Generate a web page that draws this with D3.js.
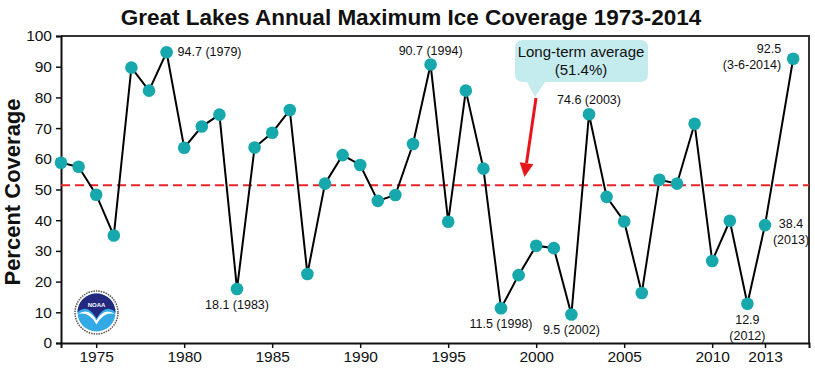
<!DOCTYPE html>
<html><head><meta charset="utf-8">
<script src="https://cdn.jsdelivr.net/npm/d3@7"></script>
<style>body{margin:0;background:#fff}svg{display:block;font-family:"Liberation Sans",Arial,sans-serif}</style>
</head><body><svg id="c" width="815" height="369"></svg>
<script>
const years = [1973,1974,1975,1976,1977,1978,1979,1980,1981,1982,1983,1984,1985,1986,1987,1988,1989,1990,1991,1992,1993,1994,1995,1996,1997,1998,1999,2000,2001,2002,2003,2004,2005,2006,2007,2008,2009,2010,2011,2012,2013,2014.6];
const coverage = [58.7,57.4,48.3,35.0,89.7,82.2,94.7,63.6,70.5,74.4,17.6,63.7,68.5,75.9,22.5,51.9,61.2,58.0,46.3,48.2,64.8,90.7,39.5,82.2,56.8,11.3,22.1,31.7,30.9,9.3,74.5,47.6,39.6,16.3,53.2,51.9,71.4,26.7,39.8,12.8,38.4,92.6];
const average = 51.4;
const xTicks = [1975,1980,1985,1990,1995,2000,2005,2010,2013];
const yTicks = [0,10,20,30,40,50,60,70,80,90,100];
const annotations = [
  {x:1979, v:94.7, lines:["94.7 (1979)"], pos:"right"},
  {x:1983, v:17.6, lines:["18.1 (1983)"], pos:"below"},
  {x:1994, v:90.7, lines:["90.7 (1994)"], pos:"above"},
  {x:1998, v:11.3, lines:["11.5 (1998)"], pos:"below"},
  {x:2002, v:9.3, lines:["9.5 (2002)"], pos:"below"},
  {x:2003, v:74.5, lines:["74.6 (2003)"], pos:"above"},
  {x:2012, v:12.8, lines:["12.9","(2012)"], pos:"below"},
  {x:2013, v:38.4, lines:["38.4","(2013)"], pos:"rightc"},
  {x:2014.6, v:92.6, lines:["92.5","(3-6-2014)"], pos:"left"}
];
const title = "Great Lakes Annual Maximum Ice Coverage 1973-2014";
const yTitle = "Percent Coverage";
const calloutLines = ["Long-term average","(51.4%)"];

const svg = d3.select("#c");
const L=61,R=809,T=36,B=343;
const x = d3.scaleLinear().domain([1973,2015.5]).range([L,R]);
const y = d3.scaleLinear().domain([0,100]).range([B,T]);

svg.append("text").attr("x",411).attr("y",25).attr("text-anchor","middle")
  .attr("font-size",22.5).attr("font-weight","bold").attr("fill","#111").text(title);

svg.append("path").attr("d",`M${L},${T}H${R}V${B}`).attr("fill","none").attr("stroke","#333").attr("stroke-width",2);

const yAxis = svg.append("g").attr("transform",`translate(${L},0)`)
  .call(d3.axisLeft(y).tickValues(yTicks).tickSize(5).tickPadding(4));
const xAxis = svg.append("g").attr("transform",`translate(0,${B})`)
  .call(d3.axisBottom(x).tickValues(xTicks).tickFormat(d3.format("d")).tickSize(5).tickPadding(3));
[yAxis,xAxis].forEach(a=>{
  a.select(".domain").attr("stroke","#111").attr("stroke-width",2);
  a.selectAll(".tick line").attr("stroke","#111").attr("stroke-width",1.5);
  a.selectAll("text").attr("font-size",15.5).attr("fill","#111").attr("font-family","Liberation Sans, Arial, sans-serif");
});

svg.append("text").attr("transform",`translate(20,192) rotate(-90)`).attr("text-anchor","middle")
  .attr("font-size",22).attr("font-weight","bold").attr("fill","#111").text(yTitle);

svg.append("line").attr("x1",L).attr("x2",R).attr("y1",y(average)).attr("y2",y(average))
  .attr("stroke","#e8262a").attr("stroke-width",2).attr("stroke-dasharray","9,5");

const data = years.map((yr,i)=>({x:yr,v:coverage[i]}));
svg.append("path").datum(data).attr("fill","none").attr("stroke","#000").attr("stroke-width",2)
  .attr("d",d3.line().x(d=>x(d.x)).y(d=>y(d.v)));
svg.selectAll("circle.pt").data(data).join("circle").attr("class","pt")
  .attr("cx",d=>x(d.x)).attr("cy",d=>y(d.v)).attr("r",6.3).attr("fill","#16a8ad");

annotations.forEach(a=>{
  const px=x(a.x), py=y(a.v);
  let tx=px, ty, anchor="middle";
  if(a.pos==="right"){tx=px+11;ty=py+4;anchor="start";}
  else if(a.pos==="above"){ty=py-10;}
  else if(a.pos==="below"){ty=py+20;}
  else if(a.pos==="rightc"){tx=px+26;ty=py+3;}
  else if(a.pos==="left"){tx=px-12;ty=py-6;anchor="end";}
  a.lines.forEach((ln,i)=>{
    svg.append("text").attr("x",tx).attr("y",ty+i*16).attr("text-anchor",anchor)
      .attr("font-size",12.5).attr("fill","#111").text(ln);
  });
});

const cx0=515,cx1=648,cy0=40,cy1=82;
svg.append("path").attr("d",
  `M${cx0+8},${cy0}H${cx1-8}Q${cx1},${cy0} ${cx1},${cy0+8}V${cy1-8}Q${cx1},${cy1} ${cx1-8},${cy1}H545L535,97L527,${cy1}H${cx0+8}Q${cx0},${cy1} ${cx0},${cy1-8}V${cy0+8}Q${cx0},${cy0} ${cx0+8},${cy0}Z`)
  .attr("fill","#c4ebee");
calloutLines.forEach((ln,i)=>{
  svg.append("text").attr("x",581).attr("y",57+i*18).attr("text-anchor","middle")
    .attr("font-size",15).attr("fill","#111").text(ln);
});
const ax0=536, ay0=98, ax1=524.5, ay1=177;
const ang=Math.atan2(ay1-ay0,ax1-ax0);
const hl=14, hw=7;
const bx=ax1-hl*Math.cos(ang), by=ay1-hl*Math.sin(ang);
svg.append("line").attr("x1",ax0).attr("y1",ay0).attr("x2",bx).attr("y2",by).attr("stroke","#e8161c").attr("stroke-width",3);
svg.append("path").attr("d",`M${ax1},${ay1}L${bx+hw*Math.sin(ang)},${by-hw*Math.cos(ang)}L${bx-hw*Math.sin(ang)},${by+hw*Math.cos(ang)}Z`).attr("fill","#e8161c");

const lg=svg.append("g").attr("transform","translate(96.5,312.5)");
lg.append("circle").attr("r",21.5).attr("fill","#fff").attr("stroke","#555").attr("stroke-width",1.5).attr("stroke-dasharray","1.5,1");
lg.append("circle").attr("r",19).attr("fill","#33a9e6");
lg.append("path").attr("d","M-19,0A19,19 0 0 1 19,0L17,-2Q8,-8 0,6Q-8,-8 -17,-2Z").attr("fill","#24287e");
lg.append("path").attr("d","M-19,2Q-8,-6 0,8Q8,-6 19,2Q8,-2 0,12Q-8,-2 -19,2Z").attr("fill","#fff");
lg.append("text").attr("y",-6).attr("text-anchor","middle").attr("font-size",6).attr("font-weight","bold").attr("fill","#fff").text("NOAA");
</script></body></html>
